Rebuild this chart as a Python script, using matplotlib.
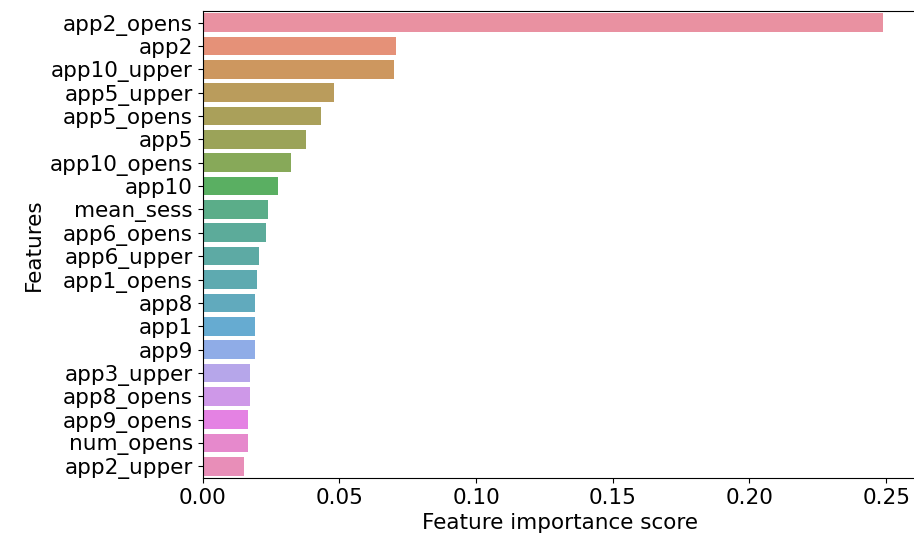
import numpy as np
import pandas as pd
import matplotlib
matplotlib.use('Agg')
import matplotlib.pyplot as plt
import seaborn as sns

features = ['app2_opens', 'app2', 'app10_upper', 'app5_upper', 'app5_opens', 'app5',
            'app10_opens', 'app10', 'mean_sess', 'app6_opens', 'app6_upper', 'app1_opens',
            'app8', 'app1', 'app9', 'app3_upper', 'app8_opens', 'app9_opens', 'num_opens',
            'app2_upper']
scores = [0.2488, 0.0708, 0.0700, 0.0481, 0.0435, 0.0380,
          0.0324, 0.0277, 0.0238, 0.0231, 0.0207, 0.0198,
          0.0192, 0.0192, 0.0192, 0.0175, 0.0175, 0.0168, 0.0168,
          0.0152]

df = pd.DataFrame({'feature': features, 'score': scores})

# old seaborn look: husl palette, desaturated to 0.75
pal = [sns.desaturate(c, 0.75) for c in sns.husl_palette(len(features))]

fig = plt.figure(figsize=(9.14, 5.46), dpi=100)
ax = fig.add_axes([0.2216, 0.1245, 0.7815, 0.8555])
sns.barplot(data=df, x='score', y='feature', hue='feature',
            palette=pal, saturation=1, legend=False, ax=ax, alpha=0.87)
ax.set_xlim(0, 0.2612)
ax.set_xticks([0, 0.05, 0.10, 0.15, 0.20, 0.25])
ax.set_xticklabels(['0.00', '0.05', '0.10', '0.15', '0.20', '0.25'])
ax.tick_params(labelsize=15.5)
ax.set_xlabel('Feature importance score', fontsize=15.5)
ax.set_ylabel('Features', fontsize=15.5)

plt.savefig('out.png', dpi=100)
